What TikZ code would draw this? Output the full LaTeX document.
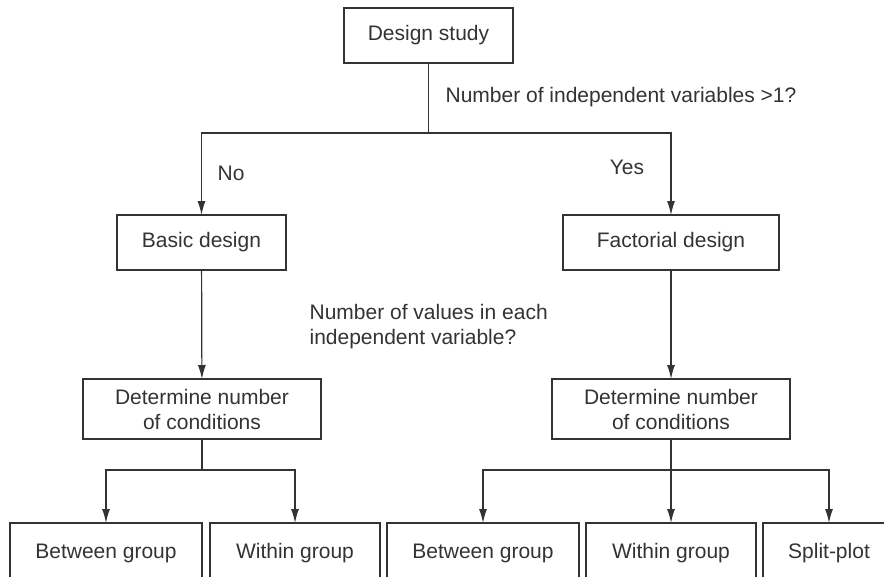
\documentclass[tikz,border=0pt]{standalone}
\usepackage{fontspec}
\setmainfont{Liberation Sans}
\usetikzlibrary{arrows.meta}
\definecolor{inkgray}{HTML}{333333}

\begin{document}
\begin{tikzpicture}[%
        > = {Latex[length = 14pt, width = 8pt]},
        x = 1pt, y = -1pt,
        line width = 1.2pt,
        color = inkgray,
        every node/.style = {font = \fontsize{21}{25}\selectfont},
        box/.style = {draw, inner sep = 0pt, outer sep = 0pt,
            align = center, minimum height = 55pt},
        question/.style = {anchor = west, inner sep = 0pt, align = left}
    ]

        % Frame of the picture.
        \useasboundingbox (0, 0) rectangle (884, 576);
        \clip (0, 0) rectangle (884, 576);

        % Boxes.
        \node[box, minimum width = 169pt] (study) at (428.5, 35.5) {Design study};
        \node[box, minimum width = 169pt] (basic) at (201.5, 242.5) {Basic design};
        \node[box, minimum width = 216pt] (factorial) at (671, 242.5) {Factorial design};
        \node[box, minimum width = 238pt, minimum height = 60pt] (condl) at (202, 409)
            {Determine number\\of conditions};
        \node[box, minimum width = 238pt, minimum height = 60pt] (condr) at (671, 409)
            {Determine number\\of conditions};

        % Bottom row.
        \foreach \name/\x/\w/\txt in {%
                betweenl/106/192/Between group,
                withinl/295/170/Within group,
                betweenr/483/192/Between group,
                withinr/671/170/Within group,
                split/829/132/Split-plot}{%
            \node[box, minimum width = \w pt, minimum height = 60pt] (\name) at (\x, 553) {\txt};
        }

        % Questions and answers.
        \node[question] (q1) at (445, 97) {Number of independent variables >1?};
        \node[question] (q2) at (309, 326.5) {Number of values in each\\independent variable?};
        \node[question] (no) at (217, 173) {No};
        \node (yes) at (627, 167) {Yes};

        % Branch points.
        \coordinate (j1) at (study |- 0, 133);
        \coordinate (j2) at (condl |- 0, 470);
        \coordinate (j3) at (condr |- 0, 470);

        % Connectors.
        \draw (study) -- (j1);
        \draw[->] (j1) -| (basic);
        \draw[->] (j1) -| (factorial);
        \draw[->] (basic) -- (condl);
        \draw[->] (factorial) -- (condr);

        \draw (condl) -- (j2);
        \foreach \b in {betweenl, withinl}{%
            \draw[->] (j2) -| (\b);
        }
        \draw (condr) -- (j3);
        \foreach \b in {betweenr, withinr, split}{%
            \draw[->] (j3) -| (\b);
        }
    \end{tikzpicture}
\end{document}
